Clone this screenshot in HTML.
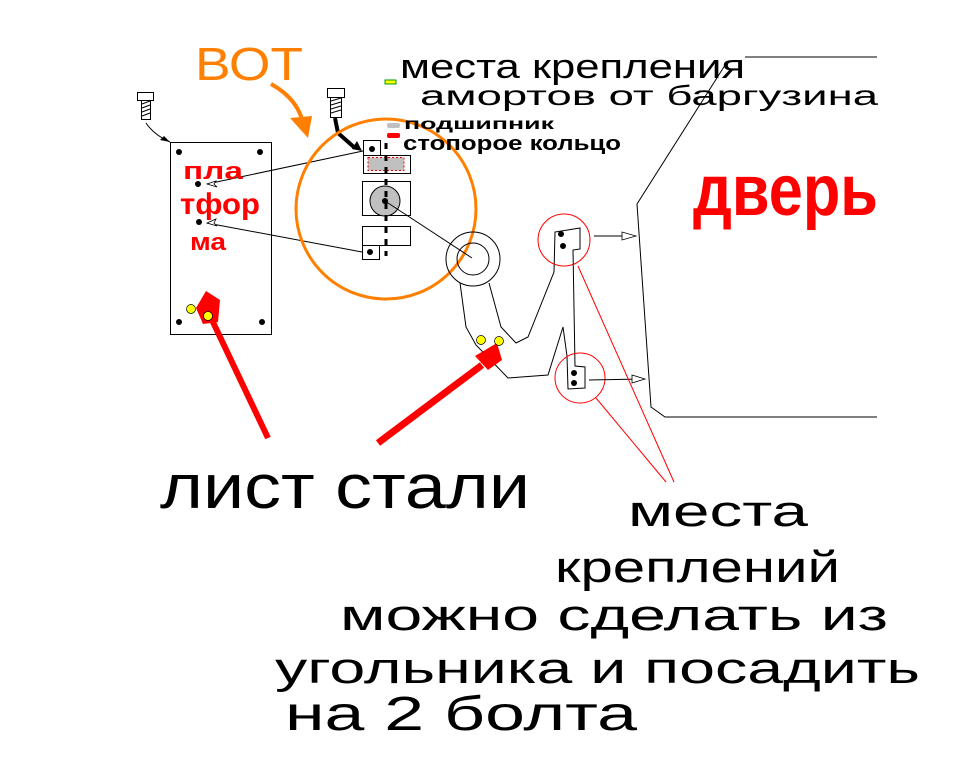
<!DOCTYPE html>
<html><head><meta charset="utf-8"><style>
html,body{margin:0;padding:0;background:#fff;}
svg{display:block;}
text{font-family:"Liberation Sans","DejaVu Sans",sans-serif;}
</style></head><body>
<svg width="963" height="765" viewBox="0 0 963 765" xmlns="http://www.w3.org/2000/svg">
<rect width="963" height="765" fill="#fff"/>
<!-- door -->
<polyline points="745,57 877,57" stroke="#000" fill="none"/>
<polyline points="727,62 637,204 651,407 665,417 877,417" stroke="#000" fill="none"/>
<!-- platform -->
<rect x="170.5" y="142.5" width="101" height="192" fill="none" stroke="#000"/>
<g fill="#000"><circle cx="179" cy="152" r="3"/><circle cx="260" cy="152" r="3"/><circle cx="179" cy="322" r="3"/><circle cx="262" cy="322" r="3"/><circle cx="198" cy="184" r="3"/><circle cx="199" cy="222" r="3"/></g>
<line x1="363" y1="151" x2="207" y2="184" stroke="#000"/>
<line x1="362" y1="252" x2="207" y2="223" stroke="#000"/>
<path d="M207,184 l9,-3 l-2,3 l3,3z M207,223 l9,-4 l-2,4 l3,3z" fill="#fff" stroke="#000" stroke-width="0.8"/>
<!-- screws -->
<rect x="137.5" y="92.5" width="16" height="8" fill="#fff" stroke="#000"/>
<rect x="141.5" y="100.5" width="9" height="19" fill="#fff" stroke="#000"/>
<path d="M142,104 l8,-3 M142,108 l8,-3 M142,112 l8,-3 M142,116 l8,-3" stroke="#000"/>
<path d="M146,123 q8,12 24,19" stroke="#000" fill="none"/>
<path d="M170,142 l-10,-2 l4,-4z" fill="#000"/>
<rect x="327.5" y="88.5" width="17" height="9" fill="#fff" stroke="#000"/>
<rect x="330.5" y="97.5" width="11" height="20" fill="#fff" stroke="#000"/>
<path d="M331,101 l10,-3 M331,105 l10,-3 M331,109 l10,-3 M331,113 l10,-3" stroke="#000"/>
<path d="M335,118 L338,133 L355,148" stroke="#000" stroke-width="4" fill="none"/>
<path d="M362,151 l-10,-2 l5,-8z" fill="#000"/>
<!-- orange circle -->
<circle cx="386" cy="209" r="90" fill="none" stroke="#ff8000" stroke-width="3"/>
<!-- mechanism -->
<rect x="363.5" y="140.5" width="17" height="15" fill="#fff" stroke="#000"/>
<circle cx="372" cy="149" r="3"/>
<rect x="363.5" y="155.5" width="47" height="18" fill="#fff" stroke="#000"/>
<rect x="368" y="157.5" width="36" height="13" fill="#c0c0c0" stroke="#e00" stroke-dasharray="2,2"/>
<rect x="362.5" y="181.5" width="48" height="34" fill="#fff" stroke="#000"/>
<circle cx="385" cy="201" r="15" fill="#c0c0c0" stroke="#000"/>
<circle cx="385" cy="201" r="3"/>
<rect x="362.5" y="226.5" width="48" height="19" fill="#fff" stroke="#000"/>
<rect x="362.5" y="245.5" width="17" height="14" fill="#fff" stroke="#000"/>
<circle cx="370" cy="252" r="3"/>
<line x1="386" y1="143" x2="386" y2="256" stroke="#000" stroke-width="3" stroke-dasharray="6,6"/>
<line x1="385" y1="201" x2="472" y2="258" stroke="#000"/>
<circle cx="473" cy="259" r="27" fill="none" stroke="#000"/>
<circle cx="473" cy="259" r="16" fill="none" stroke="#000"/>
<polyline points="460,283 466,327 476,345 508,378 548,375 563,327" fill="none" stroke="#000"/>
<polyline points="489,283 501,327 516,343 528,337 554,272 555,232 580,228 580,249 573,250 575,366 585,367 585,388 568,389 567,356 563,327" fill="none" stroke="#000"/>
<g fill="#000"><circle cx="561" cy="234" r="3"/><circle cx="563" cy="246" r="3"/><circle cx="574" cy="373" r="3"/><circle cx="574" cy="383" r="3"/></g>
<circle cx="564" cy="240" r="26" fill="none" stroke="#f00"/>
<circle cx="580" cy="378" r="25" fill="none" stroke="#f00"/>
<line x1="594" y1="236" x2="632" y2="236" stroke="#000"/>
<path d="M636,236 l-14,-4 v8z" fill="#fff" stroke="#000" stroke-width="0.8"/>
<line x1="589" y1="380" x2="645" y2="379" stroke="#000"/>
<path d="M645,379 l-13,-4 v8z" fill="#fff" stroke="#000" stroke-width="0.8"/>
<line x1="578" y1="266" x2="674" y2="482" stroke="#f00"/>
<line x1="596" y1="398" x2="666" y2="482" stroke="#f00"/>
<!-- red arrows -->
<path d="M268,438 L212,320" stroke="#f00" stroke-width="6" fill="none"/>
<path d="M196,308 L206,291 L220,300 L218,322 L203,324z" fill="#f00"/>
<path d="M378,443 L482,365" stroke="#f00" stroke-width="7" fill="none"/>
<path d="M497,343 L502,360 L488,370 L475,356z" fill="#f00"/>
<!-- yellow dots -->
<g fill="#ff0" stroke="#000" stroke-width="0.7"><circle cx="481" cy="340" r="4.5"/><circle cx="499" cy="341" r="4.5"/><circle cx="191" cy="309" r="4.5"/><circle cx="208" cy="316" r="4.5"/></g>
<!-- orange arrow -->
<path d="M271,84 Q300,100 304,128" stroke="#ff8000" stroke-width="4" fill="none"/>
<path d="M290,118 L312,116 L308,138z" fill="#ff8000"/>
<!-- legend -->
<rect x="385" y="80" width="11" height="4" fill="#ff0" stroke="#090" stroke-width="1"/>
<rect x="387" y="123" width="13" height="5" rx="2" fill="#c0c0c0"/>
<rect x="387" y="133" width="13" height="5" rx="2" fill="#f00"/>
<!-- text -->
<text x="195" y="80" fill="#ff8000" font-size="46" textLength="108" lengthAdjust="spacingAndGlyphs">ВОТ</text>
<text x="400" y="78" fill="#000" font-size="34" textLength="345" lengthAdjust="spacingAndGlyphs">места крепления</text>
<text x="420" y="105" fill="#000" font-size="28" textLength="458" lengthAdjust="spacingAndGlyphs">амортов от баргузина</text>
<text x="404" y="129" fill="#000" font-size="16" font-weight="bold" textLength="150" lengthAdjust="spacingAndGlyphs">подшипник</text>
<text x="403" y="150" fill="#000" font-size="20" font-weight="bold" textLength="218" lengthAdjust="spacingAndGlyphs">стопорое кольцо</text>
<text x="693" y="215" fill="#f00" font-size="72" font-weight="bold" textLength="185" lengthAdjust="spacingAndGlyphs">дверь</text>
<text x="183" y="179" fill="#f00" font-size="24" font-weight="bold" textLength="60" lengthAdjust="spacingAndGlyphs">пла</text>
<text x="180" y="214" fill="#f00" font-size="30" font-weight="bold" textLength="80" lengthAdjust="spacingAndGlyphs">тфор</text>
<text x="190" y="250" fill="#f00" font-size="24" font-weight="bold" textLength="36" lengthAdjust="spacingAndGlyphs">ма</text>
<text x="160" y="508" fill="#000" font-size="62" textLength="370" lengthAdjust="spacingAndGlyphs">лист стали</text>
<text x="628" y="526" fill="#000" font-size="44" textLength="180" lengthAdjust="spacingAndGlyphs">места</text>
<text x="555" y="582" fill="#000" font-size="44" textLength="285" lengthAdjust="spacingAndGlyphs">креплений</text>
<text x="340" y="630" fill="#000" font-size="44" textLength="548" lengthAdjust="spacingAndGlyphs">можно сделать из</text>
<text x="275" y="683" fill="#000" font-size="44" textLength="645" lengthAdjust="spacingAndGlyphs">угольника и посадить</text>
<text x="285" y="730" fill="#000" font-size="48" textLength="352" lengthAdjust="spacingAndGlyphs">на 2 болта</text>
</svg>
</body></html>
